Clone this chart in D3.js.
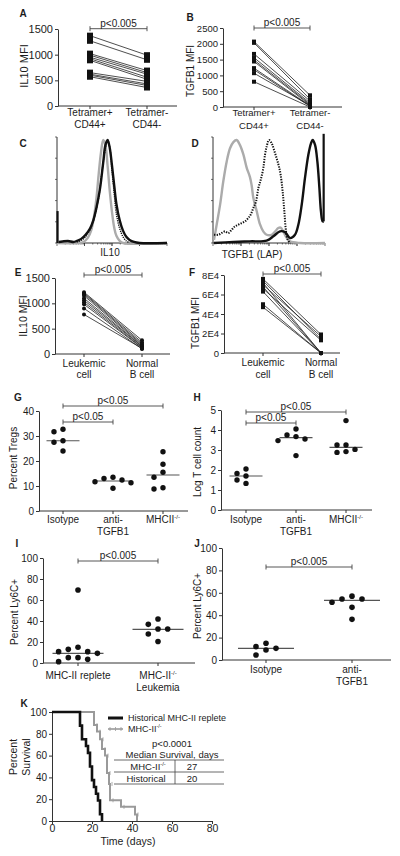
<!DOCTYPE html>
<html><head><meta charset="utf-8">
<script src="https://cdn.jsdelivr.net/npm/d3@7"></script>
<style>body{margin:0;background:#fff}svg{display:block}</style>
</head><body><svg id="fig" width="400" height="856"></svg>
<script>
// ---------------- DATA ----------------
const tetCategories = [["Tetramer+","CD44+"],["Tetramer-","CD44-"]];
const leukCategories = [["Leukemic","cell"],["Normal","B cell"]];
// A: IL10 MFI
const aTicks = [0,500,1000,1500];
const aTetPos = [1370,1270,1020,990,950,920,890,650,620,600,570];
const aTetNeg = [990,900,690,650,620,560,520,480,430,400,360];
// B: TGFB1 MFI
const bTicks = [0,500,1000,1500,2000,2500];
const bTetPos = [2070,2030,1680,1560,1490,1440,1230,1180,1070,800];
const bTetNeg = [370,250,190,130,90,60,40,20,50,0];
// C: IL10 histograms [channel, % of max]
const cGrey = [[0,0],[20,0],[24,1],[28,5],[31,12],[34,28],[36,45],[38,68],[40,88],[42,100],[44,95],[46,75],[48,50],[50,30],[52,15],[54,7],[57,2],[60,0],[100,0]];
const cBlack = [[1.5,1],[5,1.5],[10,2],[15,1],[18,2],[22,4],[26,8],[30,14],[33,22],[36,35],[39,52],[42,78],[44,95],[46,100],[48,92],[50,75],[52,56],[54,38],[57,22],[60,12],[63,6],[66,3],[70,1],[75,0],[100,0]];
const cBlackSpike = [[0.5,0],[0.5,31]];
const cDotted = [[18,1],[24,4],[30,13],[34,25],[38,45],[41,70],[44,92],[46,100],[48,93],[50,70],[52,48],[54,28],[57,14],[60,6],[63,2],[66,0]];
// D: TGFB1 (LAP) histograms
const dGrey = [[0.9,3],[3.3,18],[6.3,37],[9.2,60],[12.2,79],[15.2,92],[18.2,98],[21.1,100],[24.1,95],[27.1,86],[30.1,73],[33,64],[34.5,56],[36,44],[39,31],[42,18],[45,11],[47.9,8],[52.4,8],[55.4,11],[58.3,14.5],[60.4,15],[62.8,11],[65.8,5],[68.8,1.6],[77.7,0],[100,0]];
const dDotted = [[0.9,8],[4.8,8],[7.7,9.7],[10.7,11.3],[13.7,9.7],[16.7,12.9],[19.6,16.1],[22.6,17.7],[25.6,19.4],[28.6,21],[31.5,24.2],[33.6,27.4],[36,33.9],[38.4,40.3],[40.5,53.2],[42.6,61.3],[44.9,72.6],[46.4,85.5],[47.9,93.5],[50,100],[52.4,96.8],[54.5,90.3],[56.8,82.3],[58.9,74.2],[60.4,66.1],[62.2,50],[63.7,30.6],[65.2,11.3],[66.7,3.2],[68.8,0]];
const dBlack = [[0.9,0],[18.2,1],[33,1.6],[47.9,2.3],[53.9,6.5],[59.8,11.3],[64.3,10.6],[68.8,4.8],[73.2,8],[76.2,17.7],[79.2,37.1],[82.1,62.9],[85.1,85.5],[87.5,96.8],[89,100],[91.1,95.2],[93.2,79],[95,53.2],[96.4,30.6],[97.9,21],[98.8,21]];
const dBlackSpike = [[98.8,21],[98.8,106]];
// E: IL10 MFI leukemic vs normal
const eTicks = [0,500,1000,1500];
const eLeuk = [1220,1200,1180,1150,1100,1060,1020,980,900,780];
const eNormal = [270,230,200,180,160,150,130,120,100,110];
// F: TGFB1 MFI
const fTicks = [0,20000,40000,60000,80000];
const fTickLabels = ["0","2E4","4E4","6E4","8E4"];
const fLeuk = [76000,74000,72000,70000,68000,66000,63000,50000,47000];
const fNormal = [19000,14000,0,17000,0,13000,0,0,0];
// G: Percent Tregs
const gCategories = [["Isotype"],["anti-","TGFB1"],["MHCII","-/-"]];
const gTicks = [0,10,20,30,40];
const gIsotype = [32.7,31.7,28.1,27.5,24];
const gAnti = [13.5,11.7,13,12.4,11.3,9.1];
const gMHC = [23.7,18.7,15.5,13.5,8.8,9.3];
const gMedians = [28.1,12,14.4];
// H: Log T cell count
const hTicks = [0,1,2,3,4,5];
const hIsotype = [2.05,1.7,1.83,1.33,1.5];
const hAnti = [4.05,3.75,3.67,3.55,3.47,2.72];
const hMHC = [4.47,3.25,3.25,3.03,2.92,2.88];
const hMedians = [1.7,3.62,3.13];
// I: Percent Ly6C+ (MHC-II)
const iCategories = [["MHC-II replete"],["MHC-II","-/-","Leukemia"]];
const iTicks = [0,20,40,60,80,100];
const iReplete = [69.5,15,13,10.8,10.8,9.2,5.1,5.1,3.5,1.3];
const iKO = [41.9,36.8,32.4,32.4,27.6,20.5];
const iMedians = [9.2,32];
// J: Percent Ly6C+ (antibody)
const jCategories = [["Isotype"],["anti-","TGFB1"]];
const jTicks = [0,20,40,60,80,100];
const jIsotype = [14.9,11.9,10.4,8.9,4.5];
const jAnti = [57,54.5,54.5,51.5,47,36.3];
const jMedians = [10.4,53.3];
// K: survival
const kXTicks = [0,20,40,60,80];
const kYTicks = [0,20,40,60,80,100];
const kHistTime = [0,14,15,17,18,19,20,21,22,23,24,25];
const kHistSurv = [100,87.5,75,68.75,62.5,50,37.5,31.25,25,18.75,6.25,0];
const kKOTime = [0,21,22.5,24,25,26.5,27.5,28.5,29,34.5,41.5,42.5];
const kKOSurv = [100,88,82,75,66,60,44,34,19,13,6,0];
const kTableRows = [["MHC-II","-/-","27"],["Historical","","20"]];

// ---------------- DRAWING ----------------
const FONT = "'Liberation Sans', Arial, Helvetica, sans-serif";
const INK = "#1c1c1c", AX = "#333";
const svg = d3.select("#fig").attr("font-family", FONT);

function text(x, y, s, fs, anchor = "middle", bold = false) {
  return svg.append("text").attr("x", x).attr("y", y).attr("font-size", fs)
    .attr("text-anchor", anchor).attr("font-weight", bold ? "bold" : "normal")
    .attr("fill", INK).text(s);
}
function supText(x, y, base, sup, fs, anchor = "middle") {
  const t = svg.append("text").attr("x", x).attr("y", y).attr("font-size", fs)
    .attr("text-anchor", anchor).attr("fill", INK);
  t.append("tspan").text(base);
  t.append("tspan").attr("font-size", fs * 0.6).attr("dy", -fs * 0.4).text(sup);
  return t;
}
function vTitle(x, y, s, fs) {
  svg.append("text").attr("transform", `translate(${x},${y}) rotate(-90)`)
    .attr("font-size", fs).attr("text-anchor", "middle").attr("dominant-baseline", "central")
    .attr("fill", INK).text(s);
}
function letter(x, y, s) { text(x, y, s, 10, "middle", true); }
function hline(x1, x2, y, w = 1, c = AX) {
  svg.append("line").attr("x1", x1).attr("x2", x2).attr("y1", y).attr("y2", y)
    .attr("stroke", c).attr("stroke-width", w);
}
function vline(x, y1, y2, w = 1, c = AX) {
  svg.append("line").attr("x1", x).attr("x2", x).attr("y1", y1).attr("y2", y2)
    .attr("stroke", c).attr("stroke-width", w);
}
function yAxis(scale, x, ticks, fs, labels) {
  const g = svg.append("g").attr("transform", `translate(${x},0)`)
    .call(d3.axisLeft(scale).tickValues(ticks)
      .tickFormat((d, i) => labels ? labels[i] : d)
      .tickSize(3).tickSizeOuter(0).tickPadding(2));
  g.attr("font-family", null).attr("font-size", null);
  g.selectAll("text").attr("font-size", fs).attr("fill", INK);
  g.selectAll("line").attr("stroke", AX);
  g.select(".domain").attr("stroke", AX);
}
function catAxis(x0, x1, y, xs, cats, fs, dys) {
  hline(x0, x1, y);
  cats.forEach((c, i) => {
    vline(xs[i], y, y + 3);
    if (c.length === 3 && c[1].startsWith("-")) {
      supText(xs[i], y + dys[0], c[0], c[1], fs);
      text(xs[i], y + dys[1], c[2], fs);
    } else if (c.length === 2 && c[1].startsWith("-")) {
      supText(xs[i], y + dys[0], c[0], c[1], fs);
    } else {
      c.forEach((ln, j) => text(xs[i], y + dys[j], ln, fs));
    }
  });
}
function bracket(x1, x2, y, s, fs) {
  hline(x1, x2, y, 0.9, "#444");
  vline(x1, y - 2.5, y + 2.5, 0.9, "#444");
  vline(x2, y - 2.5, y + 2.5, 0.9, "#444");
  text((x1 + x2) / 2, y - 2, s, fs);
}

function paired(o) {
  const y = d3.scaleLinear().domain([0, o.max]).range([o.baseY, o.topY]);
  const x = d3.scaleOrdinal().domain([0, 1]).range([o.cat0, o.cat1]);
  yAxis(y, o.axisX, o.ticks, o.tickFs, o.tickLabels);
  catAxis(o.axisX, o.xEnd, o.baseY, [x(0), x(1)], o.categories, o.labFs, o.labDy);
  const g = svg.append("g");
  o.left.forEach((v, i) => {
    g.append("line").attr("x1", x(0)).attr("y1", y(v)).attr("x2", x(1)).attr("y2", y(o.right[i]))
      .attr("stroke", "#222").attr("stroke-width", 0.8);
  });
  const pts = o.left.map(v => [x(0), y(v)]).concat(o.right.map(v => [x(1), y(v)]));
  pts.forEach(p => {
    if (o.marker === "circle") g.append("circle").attr("cx", p[0]).attr("cy", p[1]).attr("r", o.mSize / 2).attr("fill", "#111");
    else g.append("rect").attr("x", p[0] - o.mSize / 2).attr("y", p[1] - o.mSize / 2)
      .attr("width", o.mSize).attr("height", o.mSize).attr("fill", "#111");
  });
  bracket(x(0), x(1), o.bracketY, o.pText, 10);
  vTitle(o.titleX, o.titleY, o.title, o.titleFs);
}

function hist(o) {
  const x = d3.scaleLinear().domain([0, 100]).range([o.x0, o.x1]);
  const y = d3.scaleLinear().domain([0, 100]).range([o.y0, o.yTop]);
  vline(o.x0, o.axisTop, o.y0);
  hline(o.x0, o.x1, o.y0);
  [0, 20, 40, 60, 80, 100].forEach(v => svg.append("line").attr("x1", o.x0 - 2).attr("x2", o.x0)
    .attr("y1", o.y0 - (o.y0 - o.axisTop) * v / 100).attr("y2", o.y0 - (o.y0 - o.axisTop) * v / 100)
    .attr("stroke", AX).attr("stroke-width", 0.7));
  for (let dec = 0; dec < 4; dec++) {
    for (let k = 1; k <= 10; k++) {
      const xv = dec * 25 + 25 * Math.log10(k);
      svg.append("line").attr("x1", x(xv)).attr("x2", x(xv)).attr("y1", o.y0)
        .attr("y2", o.y0 + (k === 1 || k === 10 ? 3 : 1.5)).attr("stroke", AX).attr("stroke-width", 0.7);
    }
  }
  const line = d3.line().x(d => x(d[0])).y(d => y(d[1])).curve(d3.curveCatmullRom.alpha(0.5));
  const straight = d3.line().x(d => x(d[0])).y(d => y(d[1]));
  svg.append("path").attr("d", line(o.grey)).attr("fill", "none").attr("stroke", "#ababab").attr("stroke-width", 2.4);
  svg.append("path").attr("d", line(o.dotted)).attr("fill", "none").attr("stroke", "#111")
    .attr("stroke-width", o.dotW).attr("stroke-dasharray", o.dash);
  svg.append("path").attr("d", line(o.black)).attr("fill", "none").attr("stroke", "#111").attr("stroke-width", 2.4);
  svg.append("path").attr("d", straight(o.spike)).attr("fill", "none").attr("stroke", "#111").attr("stroke-width", 2.2);
  text(o.labX, o.labY, o.label, 10);
}

function swarm(vals, y, cx, r, step) {
  const placed = [];
  const sorted = vals.map(v => v).sort((a, b) => b - a);
  sorted.forEach(v => {
    const py = y(v);
    const tries = [0, -step, step, -2 * step, 2 * step, -3 * step, 3 * step];
    for (const dx of tries) {
      const px = cx + dx;
      if (placed.every(p => Math.hypot(p[0] - px, p[1] - py) >= 2 * r + 1)) { placed.push([px, py]); break; }
    }
  });
  return placed;
}

function dots(o) {
  const y = d3.scaleLinear().domain([0, o.max]).range([o.baseY, o.topY]);
  yAxis(y, o.axisX, o.ticks, o.tickFs);
  catAxis(o.axisX, o.xEnd, o.baseY, o.cats, o.categories, o.labFs, o.labDy);
  o.groups.forEach((vals, i) => {
    hline(o.cats[i] - o.medHalf, o.cats[i] + o.medHalf, y(o.medians[i]), 1.2, "#555");
    swarm(vals, y, o.cats[i], o.r, o.step).forEach(p =>
      svg.append("circle").attr("cx", p[0]).attr("cy", p[1]).attr("r", o.r).attr("fill", "#111"));
  });
  o.brackets.forEach(b => bracket(o.cats[b[0]], o.cats[b[1]], b[2], b[3], 10));
  vTitle(o.titleX, o.titleY, o.title, 10);
}

// ---- Panel A
letter(23, 17, "A");
paired({ axisX: 58, baseY: 106, topY: 29, xEnd: 177, cat0: 90, cat1: 147, max: 1500,
  ticks: aTicks, tickFs: 11, labFs: 10, labDy: [10, 22], categories: tetCategories,
  left: aTetPos, right: aTetNeg, marker: "square", mSize: 6,
  bracketY: 28.7, pText: "p<0.005", title: "IL10 MFI", titleX: 24, titleY: 66, titleFs: 11 });
// ---- Panel B
letter(190, 21, "B");
paired({ axisX: 223, baseY: 107, topY: 28, xEnd: 342, cat0: 254, cat1: 310, max: 2500,
  ticks: bTicks, tickFs: 9.5, labFs: 9.5, labDy: [9, 22], categories: tetCategories,
  left: bTetPos, right: bTetNeg, marker: "square", mSize: 4,
  bracketY: 28, pText: "p<0.005", title: "TGFB1 MFI", titleX: 190, titleY: 71, titleFs: 10 });
// ---- Panel C
letter(23, 147, "C");
hist({ x0: 57, x1: 167, y0: 243, yTop: 140, axisTop: 137, grey: cGrey, black: cBlack, dotted: cDotted,
  spike: cBlackSpike, dotW: 1.4, dash: "1.2,1", label: "IL10", labX: 110, labY: 256 });
// ---- Panel D
letter(195, 147, "D");
hist({ x0: 213, x1: 325, y0: 243, yTop: 140, axisTop: 137, grey: dGrey, black: dBlack, dotted: dDotted,
  spike: dBlackSpike, dotW: 2, dash: "1.3,1.3", label: "TGFB1 (LAP)", labX: 252, labY: 258 });
// ---- Panel E
letter(18, 276, "E");
paired({ axisX: 55, baseY: 354, topY: 278, xEnd: 170, cat0: 84, cat1: 142, max: 1500,
  ticks: eTicks, tickFs: 11, labFs: 10, labDy: [13, 24], categories: leukCategories,
  left: eLeuk, right: eNormal, marker: "circle", mSize: 4,
  bracketY: 275, pText: "p<0.005", title: "IL10 MFI", titleX: 23, titleY: 316, titleFs: 10.5 });
// ---- Panel F
letter(192, 276, "F");
paired({ axisX: 224, baseY: 353, topY: 275, xEnd: 340, cat0: 263, cat1: 321, max: 80000,
  ticks: fTicks, tickLabels: fTickLabels, tickFs: 9.5, labFs: 10, labDy: [13, 25], categories: leukCategories,
  left: fLeuk, right: fNormal, marker: "square", mSize: 4,
  bracketY: 274, pText: "p<0.005", title: "TGFB1 MFI", titleX: 195, titleY: 323, titleFs: 10 });
// ---- Panel G
letter(18, 401, "G");
dots({ axisX: 39, baseY: 511, topY: 411, xEnd: 188, max: 40, ticks: gTicks, tickFs: 10, labFs: 10,
  labDy: [12, 24], cats: [63, 113, 163], categories: gCategories, groups: [gIsotype, gAnti, gMHC],
  medians: gMedians, medHalf: 16.5, r: 2.7, step: 9,
  brackets: [[0, 2, 406, "p<0.05"], [0, 1, 422, "p<0.05"]], title: "Percent Tregs", titleX: 13, titleY: 458 });
// ---- Panel H
letter(197, 401, "H");
dots({ axisX: 221, baseY: 510, topY: 410, xEnd: 372, max: 5, ticks: hTicks, tickFs: 10, labFs: 10,
  labDy: [13, 25], cats: [246, 296, 346], categories: gCategories, groups: [hIsotype, hAnti, hMHC],
  medians: hMedians, medHalf: 16.5, r: 2.7, step: 9,
  brackets: [[0, 2, 412, "p<0.05"], [0, 1, 423, "p<0.05"]], title: "Log T cell count", titleX: 197, titleY: 462 });
// ---- Panel I
letter(17, 547, "I");
dots({ axisX: 43, baseY: 663, topY: 558, xEnd: 195, max: 100, ticks: iTicks, tickFs: 10, labFs: 10,
  labDy: [16, 28], cats: [78, 158], categories: iCategories, groups: [iReplete, iKO],
  medians: iMedians, medHalf: 25.5, r: 2.8, step: 9.7,
  brackets: [[0, 1, 561, "p<0.005"]], title: "Percent Ly6C+", titleX: 14, titleY: 612 });
// ---- Panel J
letter(197, 547, "J");
dots({ axisX: 222, baseY: 660, topY: 548, xEnd: 391, max: 100, ticks: jTicks, tickFs: 10, labFs: 10,
  labDy: [13, 25], cats: [266, 352], categories: jCategories, groups: [jIsotype, jAnti],
  medians: jMedians, medHalf: 28, r: 2.8, step: 10,
  brackets: [[0, 1, 567, "p<0.005"]], title: "Percent Ly6C+", titleX: 197, titleY: 606 });

// ---- Panel K
letter(24, 707, "K");
(function () {
  const x = d3.scaleLinear().domain([0, 80]).range([52, 212]);
  const y = d3.scaleLinear().domain([0, 100]).range([821, 712]);
  yAxis(y, 52, kYTicks, 10);
  const gx = svg.append("g").attr("transform", "translate(0,821)")
    .call(d3.axisBottom(x).tickValues(kXTicks).tickSize(3).tickSizeOuter(0).tickPadding(1));
  gx.attr("font-family", null).attr("font-size", null);
  gx.selectAll("text").attr("font-size", 10.5).attr("fill", INK);
  gx.selectAll("line").attr("stroke", AX);
  gx.select(".domain").attr("stroke", AX);
  text(128, 845, "Time (days)", 10.5);
  vTitle(13, 757, "Percent", 10.5);
  vTitle(26, 757, "Survival", 10.5);
  const step = d3.line().x(d => x(d[0])).y(d => y(d[1])).curve(d3.curveStepAfter);
  const ko = kKOTime.map((t, i) => [t, kKOSurv[i]]);
  const hist = kHistTime.map((t, i) => [t, kHistSurv[i]]);
  svg.append("path").attr("d", step(ko)).attr("fill", "none").attr("stroke", "#9a9a9a").attr("stroke-width", 2);
  ko.slice(1, -1).forEach(d => vline(x(d[0]) + 3, y(d[1]) - 2, y(d[1]) + 2, 0.8, "#9a9a9a"));
  svg.append("path").attr("d", step(hist)).attr("fill", "none").attr("stroke", "#111").attr("stroke-width", 2.6);
  // legend
  hline(108, 123, 718, 3, "#111");
  text(128, 721, "Historical MHC-II replete", 9, "start");
  hline(108, 123, 729, 1.6, "#9a9a9a");
  [110, 115.5, 121].forEach(xx => vline(xx, 727, 731, 0.8, "#9a9a9a"));
  supText(128, 732, "MHC-II", "-/-", 9, "start");
  // table
  text(172, 746.5, "p<0.0001", 9.5);
  text(172, 757.5, "Median Survival, days", 9.5);
  hline(114, 224, 760, 0.8, "#444");
  hline(114, 224, 772, 0.8, "#444");
  hline(114, 224, 784, 0.8, "#444");
  vline(175, 760, 784, 0.8, "#444");
  kTableRows.forEach((r, i) => {
    const yy = 769.5 + i * 12;
    if (r[1]) supText(148, yy, r[0], r[1], 9.5); else text(146, yy, r[0], 9.5);
    text(192, yy, r[2], 9.5);
  });
})();
</script></body></html>
